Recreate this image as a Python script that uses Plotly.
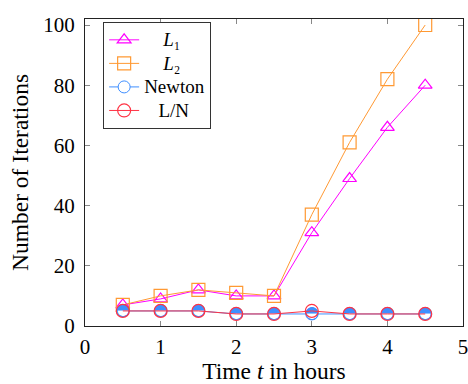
import plotly.graph_objects as go

t = [0.5, 1, 1.5, 2, 2.5, 3, 3.5, 4, 4.5]
l1 = [7, 9, 12, 10, 10, 31, 49, 66, 80]
l2 = [7, 10, 12, 11, 10, 37, 61, 82, 100]
newton = [5, 5, 5, 4, 4, 4, 4, 4, 4]
ln = [5, 5, 5, 4, 4, 5, 4, 4, 4]

FONT = "Liberation Serif"
MAGENTA = "#ff00ff"
ORANGE = "#ff9933"
BLUE = "#3f8fff"
RED = "#ff3344"
NB = "\u00a0"


def lg(txt):
    return '<span style="font-size:19px">' + txt + "</span>"


fig = go.Figure()
fig.add_trace(go.Scatter(x=t, y=l1, mode="lines+markers", name=lg(NB * 4 + "<i>L</i>\u2081"),
                         line=dict(color=MAGENTA, width=1),
                         marker=dict(symbol="triangle-up-open", size=12, color=MAGENTA,
                                     line=dict(width=1.2))))
fig.add_trace(go.Scatter(x=t, y=l2, mode="lines+markers", name=lg(NB * 4 + "<i>L</i>\u2082"),
                         line=dict(color=ORANGE, width=1),
                         marker=dict(symbol="square-open", size=13, color=ORANGE,
                                     line=dict(width=1.2))))
fig.add_trace(go.Scatter(x=t, y=newton, mode="lines+markers", name=lg("Newton"),
                         legendgroup="newton",
                         line=dict(color=BLUE, width=1),
                         marker=dict(symbol="circle", size=12, color="white",
                                     line=dict(width=1, color=BLUE))))
fig.add_trace(go.Scatter(x=t, y=newton, mode="text", text=["\u25d3"] * len(t),
                         legendgroup="newton", showlegend=False, hoverinfo="skip",
                         textposition="middle center",
                         textfont=dict(family="DejaVu Sans", size=17, color=BLUE)))
fig.add_trace(go.Scatter(x=t, y=ln, mode="lines+markers", name=lg(NB * 3 + "L/N"),
                         line=dict(color=RED, width=1),
                         marker=dict(symbol="circle-open", size=13, color=RED,
                                     line=dict(width=1.2))))

axis_common = dict(showline=True, linecolor="#222", linewidth=1, mirror="ticks",
                   ticks="inside", ticklen=5, tickcolor="#888", tickwidth=1,
                   showgrid=False, zeroline=False, automargin=False,
                   ticklabeloverflow="allow",
                   tickfont=dict(family=FONT, size=21, color="black"))

fig.update_layout(
    width=468, height=384,
    margin=dict(l=85, r=5, t=19, b=58),
    paper_bgcolor="white", plot_bgcolor="white",
    font=dict(family=FONT, color="black"),
    xaxis=dict(range=[0, 5], dtick=1, ticklabelstandoff=2,
               title=dict(text="Time <i>t</i> in hours", font=dict(family=FONT, size=23.5), standoff=4),
               **axis_common),
    yaxis=dict(range=[0, 102], tickvals=[0, 20, 40, 60, 80, 100], ticklabelstandoff=5,
               title=dict(text="Number of Iterations", font=dict(family=FONT, size=23.5), standoff=8),
               **axis_common),
    legend=dict(x=0.048, y=0.99, xanchor="left", yanchor="top",
                bordercolor="#333", borderwidth=1, bgcolor="white",
                font=dict(family=FONT, size=15.8), tracegroupgap=0),
    showlegend=True,
)

fig.write_html("out.html", config={"displayModeBar": False},
               post_script="document.body.style.margin='0';document.body.style.overflow='hidden';")
